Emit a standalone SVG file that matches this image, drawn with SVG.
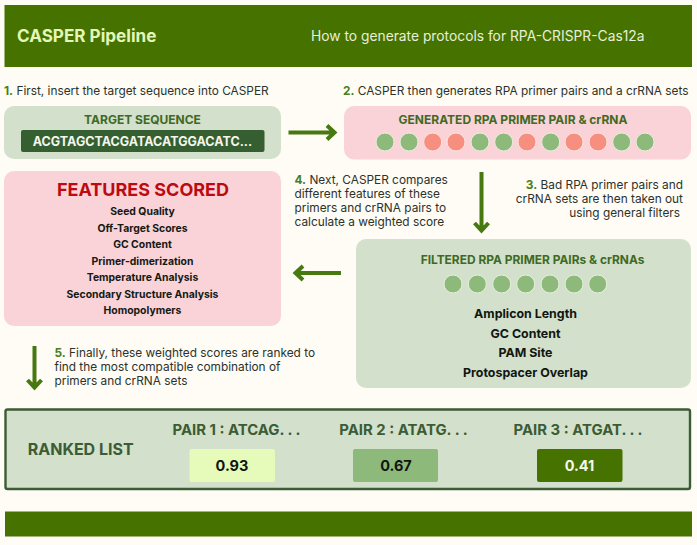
<svg xmlns="http://www.w3.org/2000/svg" width="697" height="545" viewBox="0 0 697 545">
<style>
text{font-family:Inter,"Liberation Sans",sans-serif}
.bar{fill:#467300}
.green{fill:#d2e0cc}
.pink{fill:#fad3d8}
.step{font-size:11.85px;fill:#2b332b}
.step tspan{font-weight:700;fill:#467f1e}
.title{font-size:12px;font-weight:700;fill:#3f6a23;text-anchor:middle}
.item{font-size:10.4px;font-weight:700;fill:#141a14;text-anchor:middle}
.fitem{font-size:12.4px;font-weight:700;fill:#111611;text-anchor:middle}
.pair{font-size:14.9px;font-weight:700;fill:#3b5c35;text-anchor:middle}
.score{font-size:14.5px;font-weight:700;text-anchor:middle}
.g{fill:#8dba7b;stroke:#e6efdc;stroke-width:1}
.r{fill:#f78f80;stroke:#fbe3dc;stroke-width:1}
.arrow{fill:none;stroke:#467a10;stroke-width:4}
.end{text-anchor:end}
</style>
<rect width="697" height="545" fill="#fffbf5"/>
<g id="header">
<rect class="bar" x="4.500" y="5" width="687.500" height="62"/>
<text x="17" y="42" font-size="17.100" font-weight="700" fill="#e4f7b8">CASPER Pipeline</text>
<text x="311" y="41" font-size="13.800" fill="#e8efd8">How to generate protocols for RPA-CRISPR-Cas12a</text>
</g>
<g id="step1"><text class="step" x="4" y="95"><tspan>1.</tspan> First, insert the target sequence into CASPER</text></g>
<g id="target-sequence">
<rect class="green" x="4" y="106" width="277" height="53" rx="10"/>
<text class="title" x="142.500" y="124">TARGET SEQUENCE</text>
<rect x="21" y="130" width="243.500" height="22" rx="2" fill="#355f30"/>
<text x="142.500" y="146" font-size="12.500" font-weight="700" fill="#f2f6ee" text-anchor="middle">ACGTAGCTACGATACATGGACATC...</text>
</g>
<g id="step2"><text class="step" x="343" y="95"><tspan>2.</tspan> CASPER then generates RPA primer pairs and a crRNA sets</text></g>
<g id="generated">
<rect class="pink" x="344" y="106" width="347" height="53.500" rx="10"/>
<text class="title" x="513" y="124">GENERATED RPA PRIMER PAIR &amp; crRNA</text>
<circle class="g" cx="385" cy="142" r="9"/><circle class="g" cx="409" cy="142" r="9"/><circle class="r" cx="432.700" cy="142" r="9"/><circle class="r" cx="456" cy="142" r="9"/><circle class="g" cx="480" cy="142" r="9"/><circle class="g" cx="503.700" cy="142" r="9"/><circle class="r" cx="527" cy="142" r="9"/><circle class="g" cx="550.700" cy="142" r="9"/><circle class="r" cx="574" cy="142" r="9"/><circle class="r" cx="598" cy="142" r="9"/><circle class="g" cx="621.700" cy="142" r="9"/><circle class="g" cx="645" cy="142" r="9"/>
</g>
<g id="step3"><text class="step end" x="683" y="189"><tspan>3.</tspan> Bad RPA primer pairs and</text><text class="step end" x="683" y="203">crRNA sets are then taken out</text><text class="step end" x="680" y="217">using general filters</text></g>
<g id="features">
<rect class="pink" x="4" y="171" width="277" height="155" rx="10"/>
<text x="143" y="196" font-size="18" font-weight="700" fill="#bd0a12" text-anchor="middle">FEATURES SCORED</text>
<text class="item" x="142.500" y="215">Seed Quality</text>
<text class="item" x="142.500" y="232">Off-Target Scores</text>
<text class="item" x="142.500" y="248">GC Content</text>
<text class="item" x="142.500" y="264.500">Primer-dimerization</text>
<text class="item" x="142.500" y="281">Temperature Analysis</text>
<text class="item" x="142.500" y="297.500">Secondary Structure Analysis</text>
<text class="item" x="142.500" y="314">Homopolymers</text>
</g>
<g id="step4"><text class="step" x="294.500" y="184"><tspan>4.</tspan> Next, CASPER compares</text><text class="step" x="294.500" y="198">different features of these</text><text class="step" x="294.500" y="212">primers and crRNA pairs to</text><text class="step" x="294.500" y="226">calculate a weighted score</text></g>
<g id="filtered">
<rect class="green" x="356" y="239" width="335" height="149" rx="10"/>
<text x="532.500" y="264" font-size="11.950" font-weight="700" fill="#3f6a23" text-anchor="middle">FILTERED RPA PRIMER PAIRs &amp; crRNAs</text>
<circle class="g" cx="453" cy="284" r="9"/><circle class="g" cx="477.300" cy="284" r="9"/><circle class="g" cx="501.700" cy="284" r="9"/><circle class="g" cx="525.700" cy="284" r="9"/><circle class="g" cx="550" cy="284" r="9"/><circle class="g" cx="574" cy="284" r="9"/><circle class="g" cx="597.700" cy="284" r="9"/>
<text class="fitem" x="525.500" y="318">Amplicon Length</text>
<text class="fitem" x="525.500" y="337.500">GC Content</text>
<text class="fitem" x="525.500" y="357">PAM Site</text>
<text class="fitem" x="525.500" y="377">Protospacer Overlap</text>
</g>
<g id="step5"><text class="step" x="54.500" y="357"><tspan>5.</tspan> Finally, these weighted scores are ranked to</text><text class="step" x="54.500" y="371">find the most compatible combination of</text><text class="step" x="54.500" y="385">primers and crRNA sets</text></g>
<g id="connectors">
<path class="arrow" d="M288.500 132.500H334M327 125.500L334.500 132.500L327 139.500"/>
<path class="arrow" d="M481.500 172V230M474.500 223L481.500 230.500L488.500 223"/>
<path class="arrow" d="M341 273H296M303 266L295.500 273L303 280"/>
<path class="arrow" d="M34.500 346V387M27.500 380L34.500 387.500L41.500 380"/>
</g>
<g id="ranked-list">
<rect x="5.500" y="409.500" width="684.500" height="79.500" rx="2" fill="#d2e0cc" stroke="#3b5c35" stroke-width="2.400"/>
<text x="80.700" y="455" font-size="16" font-weight="700" fill="#3b5c35" text-anchor="middle">RANKED LIST</text>
<text class="pair" x="236.500" y="435">PAIR 1 : ATCAG. . .</text>
<text class="pair" x="403.500" y="435">PAIR 2 : ATATG. . .</text>
<text class="pair" x="578" y="435">PAIR 3 : ATGAT. . .</text>
<rect x="189.500" y="449" width="85.500" height="33" rx="2" fill="#e6fbb9"/>
<text class="score" x="232" y="471" fill="#101510">0.93</text>
<rect x="353" y="449" width="85" height="33" rx="2" fill="#8dba7b"/>
<text class="score" x="396" y="471" fill="#101510">0.67</text>
<rect x="537" y="449" width="85.500" height="33" rx="2" fill="#467300"/>
<text class="score" x="579.500" y="471" fill="#f4f7ec">0.41</text>
</g>
<g id="footer"><rect class="bar" x="5" y="511.500" width="687" height="25"/></g>
</svg>
